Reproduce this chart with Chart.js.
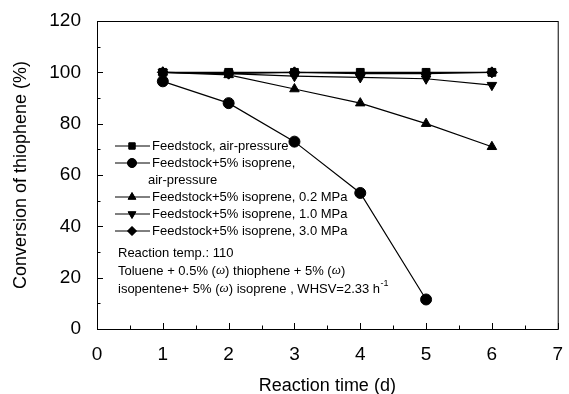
<!DOCTYPE html>
<html>
<head>
<meta charset="utf-8">
<script src="https://cdn.jsdelivr.net/npm/chart.js@4/dist/chart.umd.min.js"></script>
<style>
  html, body { margin: 0; padding: 0; background: #fff; }
  #wrap { width: 569px; height: 394px; }
</style>
</head>
<body>
<div id="wrap"><canvas id="myChart" width="569" height="394"></canvas></div>
<script>
// reaction time (d)
const days = [1, 2, 3, 4, 5, 6];

const feedAir = [100, 100, 100, 100, 100, 100];
const isoAir = [96.5, 88, 73, 53, 11.5];
const iso02 = [100, 99, 93.5, 88, 80, 71];
const iso10 = [100, 99.5, 98.5, 98, 97.5, 95];
const iso30 = [100, 99.5, 100, 99.5, 99.5, 100];

const seriesNames = [
  ["Feedstock, air-pressure"],
  ["Feedstock+5% isoprene,", "air-pressure"],
  ["Feedstock+5% isoprene, 0.2 MPa"],
  ["Feedstock+5% isoprene, 1.0 MPa"],
  ["Feedstock+5% isoprene, 3.0 MPa"]
];
const markers = ['rect', 'circle', 'triangle', 'triangle', 'rectRot'];
const rotations = [0, 0, 0, 180, 0];

// note lines, split so the omega can be set in italic serif
const noteLines = [
  ["Reaction temp.: 110"],
  ["Toluene + 0.5% (", "\u03C9", ") thiophene + 5% (", "\u03C9", ")"],
  ["isopentene+ 5% (", "\u03C9", ") isoprene , WHSV=2.33 h"]
];

function pts(vals) {
  return vals.map((v, i) => ({ x: days[i], y: v }));
}

const allSeries = [feedAir, isoAir, iso02, iso10, iso30];
const FONT = '"Liberation Sans", Arial, sans-serif';

// frame, inward ticks, legend and notes
const decor = {
  id: 'decor',
  afterDraw(chart) {
    const ctx = chart.ctx;
    const a = chart.chartArea;
    const xs = chart.scales.x, ys = chart.scales.y;
    ctx.save();
    ctx.strokeStyle = '#000';
    ctx.lineWidth = 1;
    ctx.strokeRect(a.left + 0.5, a.top + 0.5, a.right - a.left, a.bottom - a.top);
    // y ticks
    for (let v = 0; v <= 120; v += 10) {
      const y = Math.round(ys.getPixelForValue(v)) + 0.5;
      const len = v % 20 === 0 ? 6 : 3.5;
      ctx.beginPath();
      ctx.moveTo(a.left, y); ctx.lineTo(a.left + len, y);
      ctx.stroke();
    }
    // x ticks
    for (let v = 0; v <= 7; v += 0.5) {
      const x = Math.round(xs.getPixelForValue(v)) + 0.5;
      const len = v % 1 === 0 ? 6 : 3.5;
      ctx.beginPath();
      ctx.moveTo(x, a.bottom); ctx.lineTo(x, a.bottom - len);
      ctx.stroke();
    }
    // legend
    ctx.font = '13px ' + FONT;
    ctx.textBaseline = 'middle';
    ctx.fillStyle = '#000';
    const rowY = [[146], [163, 180], [197], [214], [231]];
    seriesNames.forEach((lines, i) => {
      const y = rowY[i][0];
      ctx.beginPath();
      ctx.moveTo(115, y); ctx.lineTo(150, y);
      ctx.stroke();
      Chart.helpers.drawPoint(ctx, {
        pointStyle: markers[i], radius: 4.5, rotation: rotations[i], borderWidth: 1
      }, 132, y);
      ctx.fill();
      lines.forEach((t, j) => {
        ctx.font = '13px ' + FONT;
        ctx.fillText(t, j === 0 ? 152 : 148, rowY[i][j]);
      });
    });
    // notes
    const noteY = [253, 271, 289];
    noteLines.forEach((parts, j) => {
      let x = 118;
      parts.forEach(p => {
        ctx.font = p === '\u03C9' ? 'italic 13px "Liberation Serif", serif' : '13px ' + FONT;
        ctx.fillText(p, x, noteY[j]);
        x += ctx.measureText(p).width;
      });
      if (j === 2) {
        ctx.font = '9px ' + FONT;
        ctx.fillText('-1', x + 0.5, noteY[j] - 5);
      }
    });
    ctx.restore();
  }
};

const ctx = document.getElementById('myChart').getContext('2d');
const chart = new Chart(ctx, {
  type: 'line',
  data: {
    datasets: allSeries.map((vals, i) => ({
      label: seriesNames[i].join(' '),
      data: pts(vals),
      borderColor: '#000',
      backgroundColor: '#000',
      borderWidth: 1.2,
      pointStyle: markers[i],
      pointRotation: rotations[i],
      pointRadius: 5.5,
      pointBorderWidth: 1,
      fill: false,
      tension: 0
    })).reverse()
  },
  options: {
    responsive: false,
    animation: false,
    layout: { padding: { top: 21, right: 6, left: 6, bottom: 0 } },
    plugins: {
      legend: { display: false },
      tooltip: { enabled: false }
    },
    scales: {
      x: {
        type: 'linear', min: 0, max: 7,
        ticks: { stepSize: 1, padding: 6, color: '#000', font: { size: 19, family: FONT } },
        grid: { display: false },
        border: { display: false },
        title: { display: true, text: 'Reaction time (d)', color: '#000', font: { size: 18, family: FONT }, padding: { top: 13, bottom: -3 } },
        afterFit(s) { s.height = 65; }
      },
      y: {
        min: 0, max: 120,
        ticks: { stepSize: 20, padding: 8, color: '#000', font: { size: 19, family: FONT } },
        grid: { display: false },
        border: { display: false },
        title: { display: true, text: 'Conversion of thiophene (%)', color: '#000', font: { size: 18, family: FONT }, padding: { bottom: 4 } },
        afterFit(s) { s.width = 91; }
      }
    }
  },
  plugins: [decor]
});
</script>
</body>
</html>
